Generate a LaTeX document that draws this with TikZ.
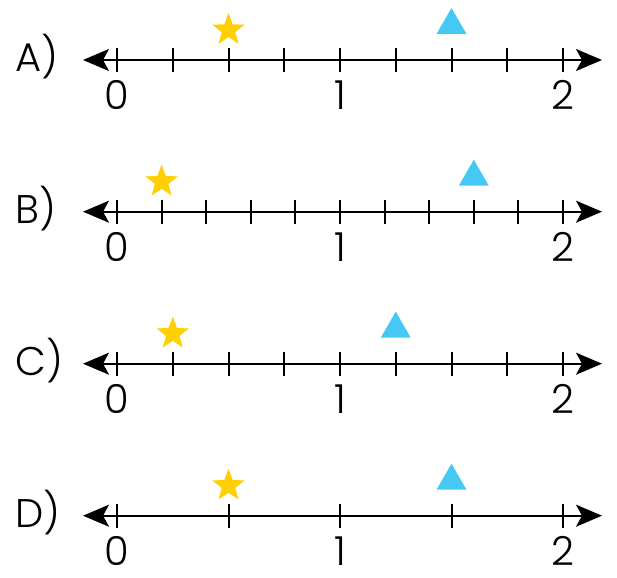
\documentclass[tikz,border=0pt]{standalone}
\usepackage{fontspec}
\setmainfont{Poppins}[UprightFont=* Light]
\usetikzlibrary{arrows.meta,shapes.geometric}
\usepackage{xcolor}
\definecolor{staryellow}{HTML}{FFCF00}
\definecolor{triblue}{HTML}{45C8F4}

\tikzset{
    axisline/.style={line width=1.7pt, {Stealth[length=26pt,width=22pt,inset=6pt]}-{Stealth[length=26pt,width=22pt,inset=6pt]}},
    tickmark/.style={line width=1.8pt},
    starmark/.style={star, star points=5, star point ratio=2.4, fill=staryellow, inner sep=0pt, minimum size=34pt},
    trimark/.style={regular polygon, regular polygon sides=3, fill=triblue, inner sep=0pt, minimum size=34.6pt},
    numlabel/.style={anchor=base, inner sep=0pt, font=\fontsize{40}{40}\selectfont},
    rowlabel/.style={anchor=base west, inner sep=0pt, font=\fontsize{40}{40}\selectfont}
}

\begin{document}
\begin{tikzpicture}[x=1pt,y=-1pt]
    \useasboundingbox (0,0) rectangle (617,577);
    % row / line y / divisions / star tick / triangle tick
    \foreach \row/\y/\n/\s/\t in {A/60/8/2/6, B/211.7/10/1/8, C/363.7/8/1/5, D/515.7/4/1/3} {
        \pgfmathsetmacro{\xs}{117+446*\s/\n}
        \pgfmathsetmacro{\xt}{117+446*\t/\n}
        \node[rowlabel] (lab\row) at (15,\y+12) {\row)};
        \coordinate (L\row) at (83,\y);
        \coordinate (R\row) at (602,\y);
        \draw[axisline] (L\row) -- (R\row);
        \foreach \k in {0,...,\n} {
            \pgfmathsetmacro{\xk}{round(117+446*\k/\n)}
            \draw[tickmark] (\xk,\y-12) -- ++(0,24);
        }
        \foreach \v in {0,1,2}
            \node[numlabel] (num\row\v) at (117+223*\v,\y+50) {\v};
        \node[starmark] (star\row) at (\xs,\y-30) {};
        \node[trimark] (tri\row) at (\xt,\y-34.7) {};
    }
\end{tikzpicture}
\end{document}
